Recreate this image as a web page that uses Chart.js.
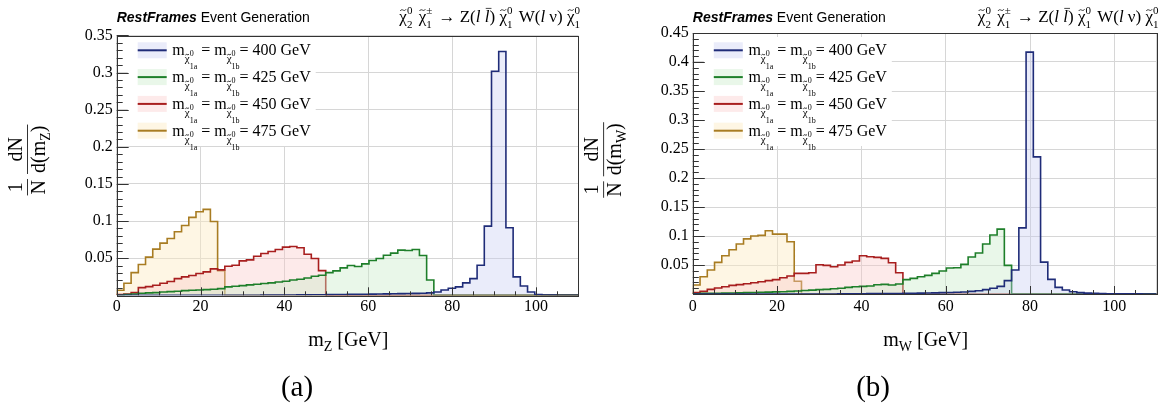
<!DOCTYPE html>
<html>
<head>
<meta charset="utf-8">
<script src="https://cdn.jsdelivr.net/npm/chart.js@4.4.1/dist/chart.umd.min.js"></script>
<style>
  html, body { margin: 0; padding: 0; background: #fff; }
  #wrap { position: relative; width: 1161px; height: 410px; }
  canvas { position: absolute; top: 0; }
  #chart-a { left: 0; }
  #chart-b { left: 580px; }
</style>
</head>
<body>
<div id="wrap">
  <canvas id="chart-a" width="580" height="410"></canvas>
  <canvas id="chart-b" width="581" height="410"></canvas>
</div>
<script>
// histogram binning (64 bins from 0 to 110 GeV)
const nBins = 64;
const xLo = 0;
const xHi = 110;
const binEdges = Array.from({ length: nBins + 1 }, (_, i) => xLo + (i * (xHi - xLo)) / nBins);

const massLabels = ["400", "425", "450", "475"];
const xTicksMajor = [0, 20, 40, 60, 80, 100];

// (a) m_Z distributions, 1/N dN/d(m_Z) per bin
const mZ_400 = [
  0, 0, 0, 0, 0, 0, 0, 0, 0, 0, 0, 0, 0, 0, 0, 0,
  0, 0, 0, 0, 0.0002, 0.0003, 0.0003, 0.0004, 0.0005, 0.0006, 0.0006, 0.0007, 0.0008, 0.0009, 0.001, 0.0011,
  0.0012, 0.0013, 0.0014, 0.0016, 0.0018, 0.0019, 0.0021, 0.0022, 0.0024, 0.0026, 0.0028, 0.0032, 0.0045, 0.0072, 0.0095, 0.0113,
  0.0167, 0.0225, 0.0405, 0.0932, 0.3018, 0.3284, 0.091, 0.0248, 0.0126, 0.0045, 0.001, 0.0004, 0.0002, 0.0001, 0, 0,
];
const mZ_425 = [
  0, 0.001, 0.0018, 0.0027, 0.0032, 0.0036, 0.0045, 0.005, 0.0054, 0.0063, 0.0068, 0.0072, 0.0077, 0.0081, 0.009, 0.0113,
  0.0122, 0.0131, 0.014, 0.0149, 0.0158, 0.0167, 0.018, 0.0189, 0.0207, 0.0216, 0.0234, 0.0257, 0.027, 0.0306, 0.0329, 0.0369,
  0.0401, 0.0387, 0.0423, 0.0468, 0.0495, 0.054, 0.0568, 0.0608, 0.0604, 0.0617, 0.0536, 0.0207, 0, 0, 0, 0,
  0, 0, 0, 0, 0, 0, 0, 0, 0, 0, 0, 0, 0, 0, 0, 0,
];
const mZ_450 = [
  0.001, 0.0018, 0.0036, 0.0104, 0.0117, 0.0135, 0.0162, 0.0185, 0.0225, 0.0248, 0.0266, 0.0293, 0.0315, 0.0356, 0.0342, 0.0392,
  0.0405, 0.0464, 0.0477, 0.0527, 0.0563, 0.059, 0.0617, 0.0649, 0.0658, 0.064, 0.0554, 0.0495, 0.0333, 0, 0, 0,
  0, 0, 0, 0, 0, 0, 0, 0, 0, 0, 0, 0, 0, 0, 0, 0,
  0, 0, 0, 0, 0, 0, 0, 0, 0, 0, 0, 0, 0, 0, 0, 0,
];
const mZ_475 = [
  0.0068, 0.0162, 0.0306, 0.0414, 0.0514, 0.0622, 0.0703, 0.0766, 0.0856, 0.0941, 0.105, 0.1126, 0.1158, 0.0995, 0.033, 0,
  0, 0, 0, 0, 0, 0, 0, 0, 0, 0, 0, 0, 0, 0, 0, 0,
  0, 0, 0, 0, 0, 0, 0, 0, 0, 0, 0, 0, 0, 0, 0, 0,
  0, 0, 0, 0, 0, 0, 0, 0, 0, 0, 0, 0, 0, 0, 0, 0,
];

// (b) m_W distributions
const mW_400 = [
  0, 0, 0, 0, 0, 0, 0, 0, 0, 0, 0, 0, 0, 0, 0, 0,
  0, 0, 0, 0, 0.0003, 0.0004, 0.0005, 0.0005, 0.0006, 0.0007, 0.0008, 0.0008, 0.0009, 0.001, 0.0012, 0.0015,
  0.0018, 0.002, 0.0023, 0.0026, 0.003, 0.0034, 0.0046, 0.0057, 0.0075, 0.0098, 0.0132, 0.023, 0.0413, 0.114, 0.417, 0.2365,
  0.055, 0.0253, 0.0115, 0.0069, 0.004, 0.0023, 0.0015, 0.001, 0.0007, 0.0005, 0.0004, 0.0003, 0.0002, 0.0002, 0.0001, 0.0001,
];
const mW_425 = [
  0.0005, 0.001, 0.001, 0.0012, 0.0015, 0.0017, 0.002, 0.0023, 0.0026, 0.0029, 0.0032, 0.0037, 0.004, 0.0046, 0.0052, 0.006,
  0.0066, 0.0075, 0.008, 0.009, 0.0098, 0.0115, 0.0126, 0.0132, 0.0138, 0.016, 0.0166, 0.0155, 0.0172, 0.0247, 0.027, 0.0298,
  0.0321, 0.0356, 0.0396, 0.0448, 0.0453, 0.051, 0.0637, 0.0706, 0.0861, 0.1016, 0.1119, 0.0494, 0, 0, 0, 0,
  0, 0, 0, 0, 0, 0, 0, 0, 0, 0, 0, 0, 0, 0, 0, 0,
];
const mW_450 = [
  0.0023, 0.0046, 0.008, 0.0103, 0.0126, 0.0149, 0.0161, 0.0178, 0.0195, 0.0212, 0.023, 0.0247, 0.0281, 0.031, 0.0356, 0.0356,
  0.0367, 0.0505, 0.0494, 0.0471, 0.0499, 0.0545, 0.0568, 0.066, 0.0643, 0.0631, 0.0614, 0.054, 0.0367, 0, 0, 0,
  0, 0, 0, 0, 0, 0, 0, 0, 0, 0, 0, 0, 0, 0, 0, 0,
  0, 0, 0, 0, 0, 0, 0, 0, 0, 0, 0, 0, 0, 0, 0, 0,
];
const mW_475 = [
  0.0155, 0.0298, 0.0413, 0.0545, 0.066, 0.0763, 0.0861, 0.095, 0.1, 0.101, 0.109, 0.1033, 0.1033, 0.09, 0.022, 0,
  0, 0, 0, 0, 0, 0, 0, 0, 0, 0, 0, 0, 0, 0, 0, 0,
  0, 0, 0, 0, 0, 0, 0, 0, 0, 0, 0, 0, 0, 0, 0, 0,
  0, 0, 0, 0, 0, 0, 0, 0, 0, 0, 0, 0, 0, 0, 0, 0,
];

const lineColors = ["#1f2c78", "#1e7f2a", "#a81e1e", "#a87c22"];
const fillColors = [
  "rgba(200, 206, 242, 0.38)",
  "rgba(200, 236, 200, 0.4)",
  "rgba(250, 200, 200, 0.38)",
  "rgba(252, 234, 196, 0.45)",
];

const SERIF = '"Liberation Serif", "Times New Roman", serif';
const SANS = '"Liberation Sans", Arial, sans-serif';
const sf = (px, style) => (style ? style + " " : "") + px + "px " + SERIF;

// step outline points: start on baseline, one point per bin low edge, close on baseline
const toSteps = (vals) => [
  { x: binEdges[0], y: 0 },
  ...vals.map((v, i) => ({ x: binEdges[i], y: v })),
  { x: binEdges[nBins], y: 0 },
];

// ---- small rich-text helper (sub/superscripts, tilde, bar) ----
const drawTilde = (ctx, x, y, w, s) => {
  const x0 = x + w * 0.12, x1 = x + w * 0.88, ty = y - s * 0.7, a = s * 0.05;
  ctx.save();
  ctx.lineWidth = Math.max(0.8, s / 17);
  ctx.beginPath();
  ctx.moveTo(x0, ty + a);
  ctx.bezierCurveTo(x0 + (x1 - x0) * 0.35, ty - 3 * a, x0 + (x1 - x0) * 0.65, ty + 3 * a, x1, ty - a);
  ctx.stroke();
  ctx.restore();
};

const drawRun = (ctx, x, y, parts, doDraw) => {
  let cx = x;
  ctx.textAlign = "left";
  ctx.textBaseline = "alphabetic";
  for (const p of parts) {
    ctx.font = p.font;
    if (p.ss) {
      const w1 = p.sup ? ctx.measureText(p.sup).width : 0;
      const w2 = p.sub ? ctx.measureText(p.sub).width : 0;
      if (doDraw) {
        if (p.sup) ctx.fillText(p.sup, cx, y + p.supDy);
        if (p.sub) ctx.fillText(p.sub, cx, y + p.subDy);
      }
      cx += Math.max(w1, w2) + (p.pad || 0);
      continue;
    }
    const w = ctx.measureText(p.t).width;
    const dy = p.dy || 0;
    if (doDraw) {
      ctx.fillText(p.t, cx, y + dy);
      if (p.over === "tilde") drawTilde(ctx, cx, y + dy, w, p.size);
      if (p.over === "bar") {
        ctx.save();
        ctx.lineWidth = 0.9;
        ctx.beginPath();
        ctx.moveTo(cx + 1, y + dy - p.size * 0.8);
        ctx.lineTo(cx + w + 2, y + dy - p.size * 0.8);
        ctx.stroke();
        ctx.restore();
      }
    }
    cx += w;
  }
  return cx - x;
};

const chi = (s, sub, sup, dy = 0, ssScale = 0.66) => [
  { t: "χ", font: sf(s), dy, over: "tilde", size: s },
  { ss: true, font: sf(Math.round(s * ssScale)), sup, sub, supDy: dy - s * 0.45, subDy: dy + s * 0.34, pad: 2 },
];

const titleParts = [
  ...chi(17, "2", "0"),
  { t: " ", font: sf(17) },
  ...chi(17, "1", "±"),
  { t: " → Z(", font: sf(17) },
  { t: "l", font: sf(17, "italic") },
  { t: " ", font: sf(17) },
  { t: "l", font: sf(17, "italic"), over: "bar", size: 17 },
  { t: ") ", font: sf(17) },
  ...chi(17, "1", "0"),
  { t: " W(", font: sf(17) },
  { t: "l", font: sf(17, "italic") },
  { t: " ν) ", font: sf(17) },
  ...chi(17, "1", "0"),
];

const legendParts = (mass) => [
  { t: "m", font: sf(16) },
  { t: "χ", font: sf(11), dy: 7, over: "tilde", size: 11 },
  { ss: true, font: sf(8), sup: "0", sub: "1a", supDy: 1, subDy: 14 },
  { t: " = m", font: sf(16) },
  { t: "χ", font: sf(11), dy: 7, over: "tilde", size: 11 },
  { ss: true, font: sf(8), sup: "0", sub: "1b", supDy: 1, subDy: 14 },
  { t: "= " + mass + " GeV", font: sf(16) },
];

const decorPlugin = {
  id: "decor",
  afterDatasetsDraw(chart, args, opts) {
    const ctx = chart.ctx;
    const ca = chart.chartArea;
    const xs = chart.scales.x;
    const ys = chart.scales.y;
    ctx.save();
    ctx.fillStyle = "#000";
    ctx.strokeStyle = "#000";

    // legend (white box hides the grid)
    ctx.fillStyle = "#fff";
    ctx.fillRect(ca.left + 11, 37, 188, 109);
    for (let i = 0; i < massLabels.length; i++) {
      const cy = 50.3 + 26.8 * i;
      const bx = ca.left + 21;
      ctx.fillStyle = fillColors[i];
      ctx.fillRect(bx, cy - 8, 29, 16);
      ctx.strokeStyle = lineColors[i];
      ctx.lineWidth = 2;
      ctx.beginPath();
      ctx.moveTo(bx, cy);
      ctx.lineTo(bx + 29, cy);
      ctx.stroke();
      ctx.fillStyle = "#000";
      ctx.strokeStyle = "#000";
      drawRun(ctx, ca.left + 55.6, cy + 5, legendParts(massLabels[i]), true);
    }

    // frame
    ctx.strokeStyle = "#333";
    ctx.lineWidth = 1;
    ctx.strokeRect(Math.round(ca.left) + 0.5, Math.round(ca.top) + 0.5, Math.round(ca.right - ca.left), Math.round(ca.bottom - ca.top));

    // y ticks (major 0.05, minor 0.01) and x ticks (major 20, minor 5)
    ctx.strokeStyle = "#333";
    ctx.beginPath();
    for (let k = 1; k * 0.01 <= opts.yMax + 1e-9; k++) {
      const py = Math.round(ys.getPixelForValue(k * 0.01)) + 0.5;
      const len = k % 5 === 0 ? 12 : 6;
      ctx.moveTo(ca.left, py);
      ctx.lineTo(ca.left + len, py);
    }
    for (let v = 5; v <= 105; v += 5) {
      const px = Math.round(xs.getPixelForValue(v)) + 0.5;
      const len = v % 20 === 0 ? 8 : 4;
      ctx.moveTo(px, ca.bottom);
      ctx.lineTo(px, ca.bottom - len);
    }
    ctx.stroke();

    ctx.fillStyle = "#000";
    ctx.font = sf(16);
    ctx.textAlign = "right";
    ctx.textBaseline = "middle";
    for (let k = 1; k * 0.05 <= opts.yMax + 1e-9; k++) {
      const v = k * 0.05;
      ctx.fillText(String(+v.toFixed(2)), ca.left - 4, ys.getPixelForValue(v));
    }
    ctx.textAlign = "center";
    for (const v of xTicksMajor) {
      ctx.fillText(String(v), xs.getPixelForValue(v), 307);
    }

    // header
    ctx.textAlign = "left";
    ctx.textBaseline = "alphabetic";
    ctx.font = "italic bold 14px " + SANS;
    ctx.fillText("RestFrames", ca.left, 22);
    const rw = ctx.measureText("RestFrames").width;
    ctx.font = "14px " + SANS;
    ctx.fillText(" Event Generation", ca.left + rw, 22);
    const tw = drawRun(ctx, 0, 0, titleParts, false);
    drawRun(ctx, ca.right + 4 - tw, 22, titleParts, true);

    // x-axis title
    const xt = [
      { t: "m", font: sf(20) },
      { t: opts.sub, font: sf(14), dy: 5 },
      { t: " [GeV]", font: sf(20) },
    ];
    const xw = drawRun(ctx, 0, 0, xt, false);
    drawRun(ctx, (ca.left + ca.right) / 2 + 1 - xw / 2, 346, xt, true);

    // y-axis title, rotated: 1/N dN/d(m)
    ctx.save();
    ctx.translate(ca.left - 89.7, 160);
    ctx.rotate(-Math.PI / 2);
    ctx.font = sf(20);
    const wN = ctx.measureText("N").width;
    const den = [
      { t: "d(m", font: sf(20) },
      { t: opts.sub, font: sf(14), dy: 5 },
      { t: ")", font: sf(20) },
    ];
    const wDen = drawRun(ctx, 0, 0, den, false);
    const gap = 7;
    const total = wN + gap + wDen;
    const x0 = -total / 2;
    ctx.font = sf(20);
    ctx.textAlign = "center";
    ctx.fillText("1", x0 + wN / 2, -5);
    ctx.fillText("N", x0 + wN / 2, 18);
    ctx.lineWidth = 1;
    ctx.beginPath();
    ctx.moveTo(x0 - 1, 0.5);
    ctx.lineTo(x0 + wN + 1, 0.5);
    const x1 = x0 + wN + gap;
    ctx.moveTo(x1 - 1, 0.5);
    ctx.lineTo(x1 + wDen + 1, 0.5);
    ctx.stroke();
    ctx.font = sf(20);
    ctx.fillText("dN", x1 + wDen / 2, -5);
    drawRun(ctx, x1, 18, den, true);
    ctx.restore();

    // panel label
    ctx.font = sf(29);
    ctx.textAlign = "center";
    ctx.textBaseline = "middle";
    ctx.fillText(opts.panel, ca.left + 180.3, 388);

    ctx.restore();
  },
};

const makeDatasets = (series) =>
  series.map((vals, i) => ({
    label: massLabels[i] + " GeV",
    data: toSteps(vals),
    stepped: "before",
    borderColor: lineColors[i],
    backgroundColor: fillColors[i],
    borderWidth: 1.6,
    pointRadius: 0,
    fill: "origin",
  }));

const makeChart = (canvasId, series, yMax, pad, sub, panel) =>
  new Chart(document.getElementById(canvasId), {
    type: "line",
    data: { datasets: makeDatasets(series) },
    options: {
      responsive: false,
      animation: false,
      layout: { padding: pad },
      plugins: {
        legend: { display: false },
        tooltip: { enabled: false },
        decor: { yMax, sub, panel },
      },
      scales: {
        x: {
          type: "linear",
          min: xLo,
          max: xHi,
          afterFit: (s) => { s.height = 0; },
          ticks: { display: false, stepSize: 20 },
          grid: { color: "#d6d6d6", lineWidth: 1, drawTicks: false },
          border: { display: false },
        },
        y: {
          type: "linear",
          min: 0,
          max: yMax,
          afterFit: (s) => { s.width = 0; },
          ticks: { display: false, stepSize: 0.05 },
          grid: { color: "#d6d6d6", lineWidth: 1, drawTicks: false },
          border: { display: false },
        },
      },
    },
    plugins: [decorPlugin],
  });

makeChart("chart-a", [mZ_400, mZ_425, mZ_450, mZ_475], 0.35,
  { left: 116.7, right: 2, top: 35.5, bottom: 114.7 }, "Z", "(a)");
makeChart("chart-b", [mW_400, mW_425, mW_450, mW_475], 0.45,
  { left: 112.8, right: 4.5, top: 33, bottom: 116 }, "W", "(b)");
</script>
</body>
</html>
